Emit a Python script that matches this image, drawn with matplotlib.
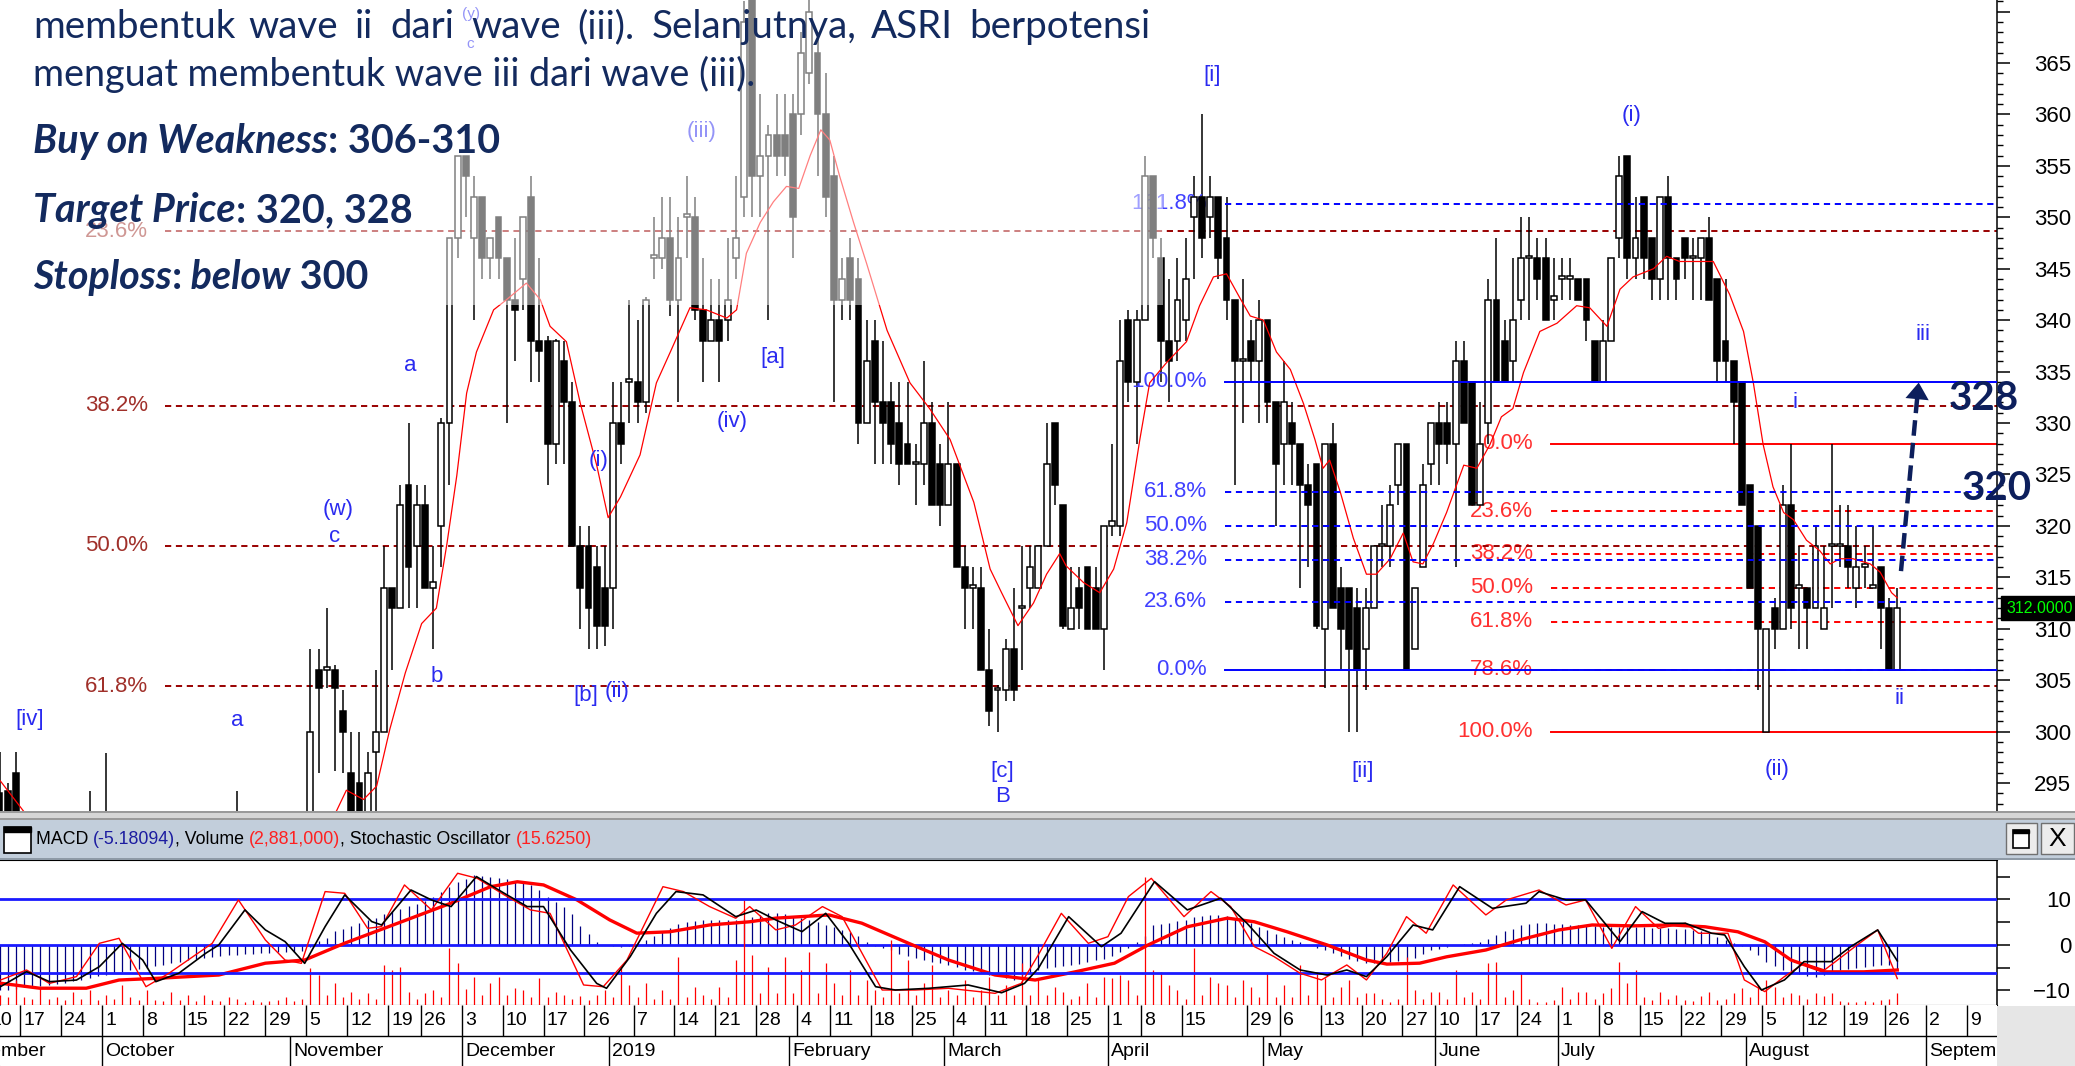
import numpy as np
import pandas as pd
import matplotlib
matplotlib.use("Agg")
import matplotlib.pyplot as plt
from matplotlib.patches import Rectangle
from matplotlib.ticker import MultipleLocator, FuncFormatter
from matplotlib.transforms import blended_transform_factory

NARROW = ["Liberation Sans Narrow", "Liberation Sans", "DejaVu Sans"]
BODY = ["Lato", "Open Sans", "DejaVu Sans"]
plt.rcParams["font.family"] = NARROW

# ---------------- trading calendar (IDX) ----------------
holidays = ["2018-09-11", "2018-11-20", "2018-12-24", "2018-12-25", "2018-12-31",
            "2019-01-01", "2019-02-05", "2019-03-07", "2019-04-03", "2019-04-17",
            "2019-04-19", "2019-05-01", "2019-05-30", "2019-06-03", "2019-06-04",
            "2019-06-05", "2019-06-06", "2019-06-07"]
days = pd.bdate_range("2018-09-03", "2019-09-13")
days = days[~days.isin(pd.to_datetime(holidays))]
first_day = "2018-09-10"
hidden_weeks = ["2019-01-02", "2019-04-22"]
month_names = {1: "2019", 2: "February", 3: "March", 4: "April", 5: "May", 6: "June",
               7: "July", 8: "August", 9: "September", 10: "October",
               11: "November", 12: "December"}

# ---------------- ASRI daily candles (from 2018-09-10) ----------------
opens = [296, 294, 294.2, 296, 287, 284, 282, 285, 281, 283,
         280, 282, 284, 286, 283, 288, 284, 287, 283, 281,
         279, 281, 283, 285, 284, 286, 287, 288, 289, 286,
         285, 287, 285, 284, 283, 284, 285, 286, 287, 290,
         306, 306, 306, 302, 296, 295, 291, 298, 300, 314,
         312, 324, 318, 322, 314, 320, 330, 348, 356, 348,
         352, 346, 350, 346, 342, 344, 352, 338, 338, 328,
         336, 332, 318, 318, 316, 314, 314, 330, 334, 334,
         332, 346, 346, 348, 342, 350, 350, 341, 338, 340,
         340, 346, 352, 372, 354, 356, 358, 358, 360, 360,
         364, 366, 360, 354, 342, 346, 344, 330, 338, 332,
         332, 330, 328, 326, 326, 330, 326, 322, 326, 316,
         314, 314, 306, 304, 304, 308, 312, 314, 314, 318,
         330, 322, 310, 314, 316, 314, 310, 320, 320, 340,
         334, 340, 354, 346, 338, 338, 340, 350, 352, 350,
         352, 348, 342, 336, 338, 336, 340, 332, 328, 330,
         328, 324, 326, 310, 328, 314, 314, 312, 308, 312,
         318, 318, 324, 328, 308, 316, 326, 330, 330, 328,
         336, 334, 322, 330, 342, 338, 336, 342, 346, 346,
         346, 342, 344, 344, 344, 344, 338, 334, 338, 348,
         356, 346, 352, 348, 344, 352, 346, 348, 346, 346,
         348, 344, 338, 336, 334, 324, 320, 300, 312, 310,
         322, 314, 314, 312, 310, 318, 318, 318, 314, 316,
         314, 316, 312, 306]
highs = [299, 298, 295, 298, 290, 288, 286, 287, 285, 286,
         284, 286, 294.2, 289, 297.9, 290, 289, 289, 286, 285,
         283, 285, 287, 288, 288, 289, 290, 291, 291, 289,
         294.2, 290, 288, 287, 286, 287, 288, 289, 291, 308,
         308, 312, 306.5, 304, 300, 300, 298, 306, 318, 314,
         324, 330, 324, 324, 318, 330.5, 348, 356, 356, 354,
         352, 348, 350, 346, 348, 350, 354, 346, 338.5, 338.2,
         338, 334, 320, 320, 318, 318, 334, 334, 342, 340,
         342.2, 350, 352, 352, 350, 354, 352, 346, 344, 344,
         348, 354, 371, 374, 362, 359, 362, 362, 362, 368,
         372, 368, 364, 356, 346, 348, 346, 340, 340, 338,
         334, 334, 334, 328, 336, 332, 328, 332, 326, 318,
         316, 316, 310, 304.5, 309, 314, 318, 318, 318, 330,
         330, 322, 316, 316, 316, 316, 320, 328, 340, 341,
         341, 356, 354, 348, 344, 346, 348, 354, 360, 354,
         352, 352, 342, 344, 340, 342, 340, 332, 336, 332,
         328, 326, 326, 328, 330, 316, 314, 314, 314, 318,
         322, 324, 328, 328, 314, 326, 330, 332, 332, 338,
         338, 334, 332, 344, 348, 340, 346, 350, 350, 348,
         348, 346, 346, 346, 344, 344, 338, 340, 346, 356,
         356, 352, 352, 348, 352, 354, 346, 348, 348, 348,
         350, 344, 344, 336, 334, 324, 320, 310, 313, 324,
         328, 318, 314, 320, 318, 328, 322, 322, 320, 318,
         320, 316, 313, 314]
lows = [293, 290, 284, 285, 282, 280, 279, 280, 278, 279,
        277, 279, 282, 282, 281, 283, 280, 282, 279, 277,
        276, 278, 280, 281, 281, 283, 284, 285, 285, 283,
        283, 284, 282, 281, 280, 281, 282, 283, 284, 288,
        296, 304.2, 296.2, 296, 288, 290, 290, 292, 300, 306,
        312, 312, 312, 314, 308, 316, 324, 346, 350, 340,
        344, 344, 344, 330, 336, 341, 334, 334, 324, 326,
        326, 318, 310, 308, 308, 308.3, 310, 326, 330, 330,
        331, 344, 345, 340.4, 332, 346, 340, 334, 338, 334,
        338, 344, 350, 350, 350, 340, 354, 354, 346, 358,
        363, 354, 350, 332, 340, 340, 328, 330, 326, 326,
        326, 324, 326, 322, 324, 322, 320, 322, 316, 310,
        310, 306, 300.5, 300, 303, 303, 306, 312, 314, 318,
        322, 310, 310, 310, 310, 310, 306, 319, 319, 332,
        328, 340, 346, 334, 332, 336, 338, 344, 346, 348,
        344, 340, 324, 330, 334, 330, 330, 320, 324, 324,
        314, 316, 310, 304.2, 312, 306, 300, 300, 304, 312,
        316, 316, 322, 306, 308, 316, 324, 324, 326, 316,
        330, 322, 322, 328, 334, 334, 334, 340, 340, 342,
        340, 340, 342, 342, 342, 338, 334, 334, 338, 346,
        344, 344, 344, 342, 342, 342, 342, 344, 342, 342,
        342, 334, 334, 328, 322, 314, 304, 300, 308, 310,
        310, 308, 308, 312, 310, 312, 316, 314, 312, 314,
        314, 308, 306, 306]
closes = [294, 291, 286, 287, 284, 282, 285, 281, 283, 280,
          282, 284, 286, 283, 288, 284, 287, 283, 281, 279,
          281, 283, 285, 284, 286, 287, 288, 289, 286, 285,
          287, 285, 284, 283, 284, 285, 286, 287, 289, 300,
          304.2, 306.2, 304.2, 300, 290, 292, 296, 300, 314, 312,
          322, 316, 322, 314, 314.5, 330, 348, 356, 354, 352,
          346, 348, 346, 342, 341, 350, 338, 337, 328, 338,
          332, 318, 314, 312, 310.3, 310.3, 330, 328, 334.2, 332,
          342, 346.3, 348, 342, 346, 350.3, 341, 338, 340, 338,
          342, 348, 369, 354, 356, 358, 356, 356, 350, 366,
          370, 360, 352, 342, 344, 342, 330, 336, 332, 330,
          328, 326, 326, 326.2, 330, 322, 322, 326, 316, 314,
          314.2, 306, 302, 304.2, 308, 304, 312.2, 316, 318, 326,
          324, 310.3, 312, 312, 310, 310, 320, 320.5, 336, 334,
          340, 354, 348, 338, 336, 342, 344, 352, 348, 352,
          346, 342, 336, 336.2, 336, 340, 332, 326, 332, 328,
          324, 322, 310.3, 328, 312, 310, 308, 306, 312, 318,
          318.2, 322, 328, 306, 314, 324, 330, 328, 328, 336,
          330, 322, 328, 342, 334, 334, 340, 346, 346.2, 344,
          340, 342.3, 344.1, 344.1, 342, 340, 334, 338, 346, 354,
          346, 348, 346, 344, 352, 346, 344, 346, 346.2, 348,
          342, 336, 336, 332, 322, 314, 310, 310, 310, 322,
          312, 314.2, 312, 318, 312, 318.2, 318.2, 316, 316, 316.2,
          314.2, 312, 306, 312]

# red moving average (trading-day index, price)
ma_i = [1.1, 3.9, 8, 15, 22, 30, 38, 42.2, 43.4, 45.5, 47.1, 48.7, 50.6, 52.6, 54.4,
        55.7, 56.9, 58.1, 59.3, 61.4, 63.0, 65.4, 67.1, 68.3, 70.3, 72.0, 74.0, 75.4,
        76.9, 79.3, 81.3, 83.0, 85.4, 87.4, 89.9, 91.1, 92.3, 94.0, 95.6, 97.2, 98.7,
        100.1, 101.4, 102.5, 103.7, 105.4, 107.0, 109.5, 112.3, 114.7, 117.2, 120.1,
        122.1, 123.5, 125.5, 127.4, 129.0, 130.6, 131.4, 133.5, 135.5, 137.2, 138.8,
        140.4, 141.6, 143.7, 146.1, 147.7, 149.4, 151.0, 152.6, 153.9, 155.5, 157.1,
        158.8, 160.4, 161.8, 162.8, 163.6, 164.9, 166.5, 168.1, 169.3, 171.0, 172.6,
        173.8, 175.0, 176.3, 177.9, 180.0, 181.6, 183.2, 184.6, 186.0, 187.3, 189.3,
        191.4, 193.8, 195.4, 197.5, 199.1, 200.7, 203.2, 204.8, 206.4, 208.9, 210.5,
        212.5, 214.2, 215.4, 216.6, 217.8, 219.1, 220.3, 221.9, 223.5, 224.8, 226.0,
        227.6, 229.7, 230.9, 232.3, 233.0]
ma_v = [295.2, 292.3, 288, 285, 283, 285, 287, 292.3, 294.3, 293.4, 294.7, 300.2, 305.7,
        310.5, 312.0, 318.3, 324.9, 332.9, 336.9, 341.0, 342.0, 343.6, 342.0, 339.4,
        337.9, 331.9, 325.9, 320.8, 322.8, 326.9, 333.9, 336.9, 341.2, 341.0, 340.2,
        341.0, 346.5, 349.5, 351.5, 353.0, 352.8, 356.0, 358.5, 357.5, 354.0, 349.5,
        345.5, 339.0, 333.9, 331.4, 328.4, 322.3, 315.8, 313.5, 310.3, 312.5, 315.3,
        317.3, 316.1, 314.5, 313.5, 315.8, 320.3, 328.4, 333.9, 335.9, 337.9, 341.4,
        344.2, 344.5, 342.2, 340.4, 340.0, 336.9, 335.2, 331.9, 328.4, 325.6, 326.4,
        323.3, 318.8, 315.3, 315.3, 316.8, 319.3, 316.5, 316.3, 318.3, 321.3, 325.9,
        325.6, 327.9, 330.6, 331.4, 334.9, 338.9, 339.7, 341.4, 341.2, 339.4, 343.0,
        344.2, 345.0, 346.2, 345.7, 345.7, 345.7, 342.5, 338.9, 333.9, 327.9, 323.8,
        321.3, 320.6, 318.6, 317.6, 316.3, 316.8, 316.8, 316.3, 315.5, 313.5, 313.0]

# ---------------- indicator panel ----------------
macd_hist = [-10, -10, -9.8, -9.6, -9.3, -9.2, -9.0, -8.8, -8.6, -8.4,
             -8.0, -7.6, -7.2, -6.8, -6.5, -6.2, -5.9, -5.6, -5.3, -5.0,
             -4.6, -4.3, -4.0, -3.7, -3.4, -3.1, -2.9, -2.7, -2.5, -2.3,
             -2.1, -2.0, -1.9, -1.8, -1.7, -1.6, -1.6, -1.5, -1.4, -0.5,
             0.8, 1.6, 3.0, 3.6, 4.2, 4.8, 5.4, 6.0, 6.8, 7.4,
             7.9, 8.5, 9.0, 9.6, 10.5, 11.6, 12.8, 13.8, 14.6, 15.3,
             15.2, 15.0, 14.8, 14.4, 14.0, 13.7, 13.2, 12.0, 10.6, 9.4,
             8.4, 6.8, 4.2, 2.4, 0.7, 0.1, -0.2, -0.4, -0.3, 0.5,
             1.2, 2.0, 2.9, 3.8, 4.6, 5.0, 5.3, 5.5, 5.6, 5.5,
             5.5, 5.6, 5.8, 6.2, 6.6, 7.0, 7.0, 6.8, 6.4, 6.0,
             5.6, 5.0, 4.4, 4.0, 3.2, 2.8, 2.0, 0.6, -0.2, -0.6,
             -1.2, -2.0, -2.5, -2.8, -3.2, -3.7, -4.0, -4.4, -4.9, -5.4,
             -5.8, -6.2, -6.5, -6.8, -7.2, -7.6, -7.0, -6.2, -5.6, -5.0,
             -4.8, -4.6, -4.4, -4.1, -3.8, -3.4, -3.0, -2.4, -1.6, -0.7,
             0.6, 2.0, 4.4, 4.6, 4.8, 5.2, 5.6, 6.2, 6.4, 6.6,
             6.6, 6.4, 6.0, 5.4, 4.8, 4.0, 3.2, 2.4, 1.8, 1.1,
             0.6, 0.0, -0.6, -1.1, -1.8, -2.4, -3.0, -3.6, -4.0, -4.0,
             -4.0, -3.8, -3.5, -3.3, -2.8, -2.0, -1.2, -0.8, -0.4, 0.0,
             0.3, 0.5, 0.7, 1.4, 2.2, 3.0, 3.6, 4.4, 4.6, 4.8,
             4.8, 4.7, 4.6, 4.5, 4.4, 4.3, 4.2, 4.0, 4.0, 4.0,
             4.0, 4.0, 3.9, 3.8, 3.7, 3.7, 3.6, 3.5, 3.3, 3.0,
             2.6, 1.8, 1.2, 0.4, -0.3, -1.1, -2.2, -3.8, -4.6, -5.4,
             -6.0, -6.4, -6.8, -7.0, -6.6, -6.2, -5.6, -5.3, -5.0, -4.8,
             -4.6, -4.5, -4.4, -5.2]
volume_m = [3.0, 2.5, 2.0, 6.2, 2.0, 1.5, 4.1, 1.5, 2.0, 1.2,
            3.3, 1.5, 3.7, 1.2, 2.5, 1.5, 4.9, 2.0, 1.2, 3.7,
            1.2, 1.0, 3.3, 1.2, 2.5, 1.0, 2.5, 1.2, 1.0, 2.0,
            1.5, 0.8, 1.2, 0.8, 1.0, 1.2, 2.0, 1.0, 1.5, 9.0,
            7.4, 2.5, 5.3, 2.0, 3.3, 1.5, 2.9, 1.5, 9.9, 8.6,
            9.4, 3.3, 1.5, 2.9, 3.7, 2.0, 14.0, 10.3, 4.0, 7.0,
            2.5, 5.3, 7.0, 2.5, 4.1, 3.7, 2.0, 6.6, 2.0, 3.3,
            2.5, 1.5, 2.1, 1.2, 2.5, 3.7, 2.0, 9.4, 4.9, 2.0,
            5.3, 1.5, 3.7, 1.5, 11.9, 2.0, 4.5, 2.5, 1.5, 4.5,
            2.0, 11.0, 25.9, 12.3, 3.0, 9.4, 3.0, 11.9, 3.0, 8.6,
            13.1, 3.0, 10.3, 5.3, 2.5, 8.6, 2.5, 6.2, 3.7, 2.0,
            16.1, 3.0, 11.0, 2.5, 5.3, 9.9, 2.0, 3.7, 2.5, 6.2,
            2.0, 3.7, 7.0, 2.5, 4.9, 2.5, 10.3, 2.5, 6.2, 2.5,
            4.5, 3.3, 1.5, 2.1, 5.3, 2.0, 7.0, 6.6, 7.4, 6.2,
            2.5, 31.6, 8.6, 8.2, 4.9, 3.7, 1.6, 14.0, 2.5, 7.0,
            5.3, 4.9, 2.0, 6.2, 4.5, 2.0, 7.8, 2.0, 4.9, 2.0,
            9.9, 2.5, 7.8, 6.6, 2.0, 4.5, 6.2, 2.0, 2.9, 2.9,
            1.5, 0.8, 1.5, 11.9, 3.7, 1.5, 3.3, 3.3, 1.5, 8.6,
            2.0, 3.3, 1.5, 10.3, 10.7, 2.0, 3.7, 7.8, 1.5, 0.8,
            0.8, 1.2, 4.5, 1.5, 3.3, 3.3, 1.5, 2.9, 4.1, 10.7,
            5.3, 8.6, 2.0, 1.2, 3.3, 1.5, 2.5, 1.2, 1.0, 2.1,
            3.3, 1.2, 1.6, 2.9, 4.1, 2.0, 4.9, 6.2, 4.5, 2.0,
            2.9, 2.5, 1.5, 2.9, 2.1, 2.9, 1.0, 0.8, 0.8, 1.0,
            0.8, 1.2, 1.5, 2.9]
signal_i = [1.1, 5.9, 11.6, 15.6, 20.5, 27.8, 33.5, 38.3, 43.2, 49.7, 56.2, 61.0, 64.3,
            67.5, 71.6, 75.6, 78.9, 82.9, 87.8, 92.7, 95.9, 102.4, 106.4, 112.1, 117.0,
            122.7, 127.6, 132.5, 137.3, 141.4, 146.2, 151.1, 154.4, 158.4, 163.3, 168.1,
            170.6, 174.6, 177.9, 182.7, 186.8, 191.6, 195.7, 200.6, 205.4, 209.5, 213.5,
            216.8, 220.0, 224.1, 228.9, 233.0]
signal_v = [-8.4, -9.5, -9.5, -7.7, -7.3, -6.6, -4.0, -3.3, 0.4, 4.8, 9.2, 12.8, 13.9,
            13.2, 9.9, 5.5, 2.6, 2.9, 4.4, 5.1, 5.9, 6.6, 4.8, 0.4, -3.3,
            -6.6, -7.7, -5.9, -4.0, 0.0, 4.0, 5.9, 5.1, 2.9, 0.0, -3.3,
            -4.2, -4.0, -2.6, -1.1, 1.1, 3.3, 4.4, 4.2, 4.4, 4.0, 2.9,
            0.7, -3.3, -5.9, -5.9, -5.5]
stoch_k_i = [1.1, 4.3, 7.1, 10.4, 13.2, 15.6, 18.9, 21.7, 27.0, 30.2, 33.5, 35.9, 37.9,
             40.8, 43.2, 46.0, 47.7, 50.5, 53.8, 57.0, 59.4, 62.7, 65.9, 68.3, 72.4,
             74.8, 77.7, 82.1, 84.6, 87.8, 91.0, 92.7, 95.9, 98.3, 101.6, 104.0, 108.9,
             112.9, 117.0, 122.7, 125.9, 128.0, 130.8, 134.1, 136.5, 139.0, 141.8, 145.8,
             149.1, 151.5, 154.4, 156.8, 160.0, 162.6, 165.7, 168.1, 170.6, 173.0, 175.4,
             178.7, 182.7, 185.2, 189.2, 192.5, 194.9, 198.1, 201.0, 203.8, 207.1, 208.7,
             212.3, 214.3, 216.8, 219.2, 221.6, 224.1, 228.1, 230.6, 233.0]
stoch_k = [14.4, 22.6, 11.7, 17.2, 44.3, 48.4, 9.0, 19.9, 44.3, 79.6, 47.0, 30.7, 28.0,
           86.4, 85.0, 56.5, 57.9, 91.8, 71.5, 101.3, 97.2, 83.7, 71.5, 68.7, 10.4,
           9.0, 30.7, 90.4, 86.4, 74.2, 64.7, 74.2, 55.2, 59.2, 74.2, 66.0, 6.3,
           6.3, 7.7, 3.6, 11.7, 35.0, 68.7, 44.3, 49.7, 82.3, 97.2, 66.0,
           86.4, 74.2, 41.6, 33.5, 19.9, 14.5, 26.7, 14.5, 36.2, 66.0, 52.5,
           91.8, 67.4, 79.6, 87.7, 75.5, 79.6, 40.2, 74.2, 56.5, 60.6, 52.5,
           52.5, 14.5, 5.0, 17.2, 28.0, 22.6, 43.0, 55.2, 15.6]
stoch_d_i = [1.1, 4.3, 7.1, 10.4, 13.2, 16.0, 18.5, 20.1, 22.9, 26.2, 27.8, 31.0, 33.5,
             35.9, 38.3, 40.8, 43.2, 46.5, 47.7, 51.3, 53.8, 56.2, 59.3, 62.7, 65.5,
             67.5, 70.8, 74.0, 75.2, 78.1, 81.3, 83.7, 87.0, 91.0, 93.5, 95.9, 99.1,
             102.0, 104.8, 108.1, 110.5, 114.6, 119.4, 123.5, 126.3, 128.0, 131.7, 135.7,
             138.1, 142.2, 146.2, 150.3, 153.5, 156.8, 160.0, 163.3, 165.7, 168.1, 170.6,
             173.8, 176.2, 179.5, 183.5, 187.6, 189.2, 192.5, 194.9, 199.1, 201.8, 204.6,
             207.1, 210.3, 211.9, 214.3, 216.4, 219.2, 221.6, 224.9, 227.3, 230.6, 233.0]
stoch_d = [9.0, 21.3, 13.1, 14.4, 25.3, 44.3, 30.7, 13.1, 19.9, 36.2, 43.0, 71.5, 55.2,
           45.7, 28.0, 57.9, 83.7, 62.0, 59.2, 87.7, 79.6, 74.2, 98.6, 85.0, 74.2,
           74.2, 38.9, 11.7, 7.7, 33.5, 68.7, 86.4, 83.7, 66.0, 71.4, 63.3, 53.8,
           68.7, 44.3, 9.0, 6.3, 7.7, 10.4, 4.1, 11.7, 24.0, 66.0, 41.6,
           52.5, 94.5, 71.5, 81.0, 60.6, 36.2, 22.6, 18.5, 22.6, 17.2, 33.5,
           59.2, 55.2, 90.4, 72.8, 76.9, 86.4, 79.6, 79.6, 45.7, 70.1, 60.6,
           60.6, 52.5, 51.1, 25.3, 6.3, 14.5, 29.4, 29.4, 41.6, 55.2, 30.0]

# ---------------- fibonacci levels ----------------
fib_dark = [348.66, 331.7, 318.05, 304.4]
fib_dark_labels = ["23.6%", "38.2%", "50.0%", "61.8%"]
fib_blue = [351.3, 334.0, 323.3, 320.0, 316.7, 312.6, 306.0]
fib_blue_labels = ["161.8%", "100.0%", "61.8%", "50.0%", "38.2%", "23.6%", "0.0%"]
fib_red = [328.0, 321.4, 317.3, 314.0, 310.7, 306.0, 300.0]
fib_red_labels = ["0.0%", "23.6%", "38.2%", "50.0%", "61.8%", "78.6%", "100.0%"]
last_price = 312.0
targets = [("328", 1984, 398), ("320", 1997, 488)]
# projected wave iii arrow (trading-day index, price)
arrow_from = (233.45, 315.6)
arrow_to = (235.65, 334.2)

# Elliott wave labels (text, x px, y px, size)
wave_labels = [("[iv]", 30, 719, 16), ("a", 237, 721, 16), ("(w)", 338, 510, 16),
               ("c", 335, 537, 16), ("a", 410, 365, 16), ("b", 437, 677, 16),
               ("[b]", 586, 696, 16), ("(ii)", 617, 691, 16), ("(i)", 599, 460, 16),
               ("(iii)", 702, 132, 16), ("(y)", 471, 14, 11), ("c", 470, 44, 11),
               ("[a]", 773, 357, 16), ("(iv)", 732, 422, 16), ("[c]", 1002, 771, 16),
               ("B", 1003, 797, 16), ("[i]", 1212, 75, 16), ("[ii]", 1363, 771, 16),
               ("(i)", 1632, 116, 16), ("i", 1795, 403, 16), ("(ii)", 1777, 770, 16),
               ("ii", 1900, 698, 16), ("iii", 1923, 335, 16)]

# ---------------- figure geometry ----------------
W, H = 2075, 1066
AX_R = 1997
PX0, DAY_PX = 20, 8.18

fig = plt.figure(figsize=(W / 100, H / 100), dpi=100)
fig.patch.set_facecolor("white")


def box(x0, y0, x1, y1):
    return [x0 / W, 1 - y1 / H, (x1 - x0) / W, (y1 - y0) / H]


start = days.get_loc(pd.Timestamp(first_day))
n = len(closes)
x = np.arange(n) + start
xlim = (start + 3.5 - PX0 / DAY_PX, start + 3.5 + (AX_R - PX0) / DAY_PX)

ax = fig.add_axes(box(0, 0, AX_R, 811))
axm = fig.add_axes(box(0, 860, AX_R, 1005))
axd = fig.add_axes(box(0, 1005, AX_R, 1066))
for a in (ax, axm, axd):
    a.set_xlim(*xlim)
    a.set_xticks([])
    for s in ("top", "left", "bottom"):
        a.spines[s].set_visible(False)
    a.spines["right"].set_linewidth(1.1)

# ---------------- price panel ----------------
ax.set_ylim(292.28, 371.12)
o, h, l, c = map(np.array, (opens, highs, lows, closes))
up = c >= o
ax.vlines(x, l, h, color="black", lw=1.1, zorder=3)
ax.bar(x, np.maximum(np.abs(c - o), 0.25), bottom=np.minimum(o, c), width=0.72,
       color=np.where(up, "white", "black"), edgecolor="black", linewidth=1.1, zorder=4)
ax.plot(np.array(ma_i) + start, ma_v, color="red", lw=0.9, zorder=5)

blend = blended_transform_factory(ax.transAxes, ax.transData)
dash = (0, (3.2, 2.4))
for lv, lab in zip(fib_dark, fib_dark_labels):
    ax.plot([165 / AX_R, 1], [lv, lv], transform=blend, color="#990000", lw=1.4, ls=dash, zorder=2)
    ax.text(148 / AX_R, lv, lab, transform=blend, ha="right", va="center", fontsize=16, color="#a0302a")
for lv, lab in zip(fib_blue, fib_blue_labels):
    ls = "-" if lab in ("0.0%", "100.0%") else dash
    ax.plot([1225 / AX_R, 1], [lv, lv], transform=blend, color="#0000ff", lw=1.4, ls=ls, zorder=6)
    ax.text(1207 / AX_R, lv, lab, transform=blend, ha="right", va="center", fontsize=16, color="#4040ff")
for lv, lab in zip(fib_red, fib_red_labels):
    ls = "-" if lab in ("0.0%", "100.0%") else dash
    ax.plot([1551 / AX_R, 1], [lv, lv], transform=blend, color="#ff0000", lw=1.4, ls=ls, zorder=2)
    ax.text(1533 / AX_R, lv, lab, transform=blend, ha="right", va="center", fontsize=16,
            color="#ff3030", zorder=1)

for txt, px, py, fs in wave_labels:
    ax.text(px / AX_R, 1 - py / 811, txt, transform=ax.transAxes, ha="center", va="center",
            fontsize=fs, color="#2a2af0", zorder=7)

# projected move arrow
navy = "#0d1f5c"
ax0, ay0 = arrow_from[0] + start, arrow_from[1]
ax1, ay1 = arrow_to[0] + start, arrow_to[1]
ax.plot([ax0, ax1 - 0.2], [ay0, ay1 - 1.6], color=navy, lw=3.2, ls=(0, (3.5, 1.6)),
        zorder=8, solid_capstyle="butt")
ax.annotate("", xy=(ax1, ay1), xytext=(ax1 - 0.22, ay1 - 1.8),
            arrowprops=dict(arrowstyle="-|>,head_width=0.42,head_length=0.6", color=navy,
                            lw=0, mutation_scale=20), zorder=8)
for txt, px, py in targets:
    ax.text(px / AX_R, 1 - py / 811, txt, transform=ax.transAxes, ha="center", va="center",
            fontsize=29, fontweight="bold", family=BODY, color=navy, clip_on=False, zorder=9)

ax.text(2006 / AX_R, last_price, "312.0000", transform=blend, ha="left", va="center",
        fontsize=11.5, color="#00ff00", clip_on=False, zorder=9,
        bbox=dict(boxstyle="square,pad=0.3", facecolor="black", edgecolor="black"))

ax.yaxis.tick_right()
ax.yaxis.set_major_locator(MultipleLocator(5))
ax.yaxis.set_minor_locator(MultipleLocator(1))
ax.yaxis.set_major_formatter(FuncFormatter(lambda v, _: "" if v > 366 else f"{v:.0f}"))
ax.tick_params(axis="y", which="major", direction="out", length=9.4, width=1.1,
               labelsize=16, pad=44)
ax.tick_params(axis="y", which="minor", direction="out", length=4.3, width=1.0)
for t in ax.yaxis.get_major_ticks():
    t.label2.set_horizontalalignment("right")

# ---------------- indicator panel ----------------
axm.set_ylim(-13.19, 18.68)
axm.spines["top"].set_visible(True)
axm.spines["bottom"].set_visible(True)
axm.vlines(x, 0, macd_hist, color="#000080", lw=0.9, zorder=2)
axm.axhline(0, color="#1a1aff", lw=2.0, zorder=3)
axm.plot(np.array(signal_i) + start, signal_v, color="red", lw=2.4, zorder=4)
axv = axm.twinx()
axv.set_ylim(0, 35.7)
axv.set_xlim(*xlim)
axv.vlines(x, 0, volume_m, color="red", lw=0.9)
axv.set_axis_off()
axs = axm.twinx()
axs.set_ylim(-5.89, 112.1)
axs.set_xlim(*xlim)
axs.axhline(80, color="#1a1aff", lw=2.0)
axs.axhline(20, color="#1a1aff", lw=2.0)
axs.plot(np.array(stoch_k_i) + start, stoch_k, color="red", lw=1.0)
axs.plot(np.array(stoch_d_i) + start, stoch_d, color="black", lw=1.2)
axs.set_axis_off()

axm.yaxis.tick_right()
axm.yaxis.set_major_locator(MultipleLocator(10))
axm.yaxis.set_minor_locator(MultipleLocator(5))
axm.tick_params(axis="y", which="both", direction="out", length=9.4, width=1.1,
                labelsize=16, pad=44)
for t in axm.yaxis.get_major_ticks():
    t.label2.set_horizontalalignment("right")

# ---------------- date rows ----------------
axd.set_ylim(0, 2)
axd.spines["right"].set_visible(False)
axd.axhline(1, color="black", lw=1.0)
pos = pd.Series(np.arange(len(days)), index=days)
week_first = pos.groupby(days.to_period("W")).first().values
month_first = pos.groupby(days.to_period("M")).first().values
for p in week_first:
    d = days[p]
    if d.strftime("%Y-%m-%d") in hidden_weeks:
        continue
    axd.vlines(p - 0.5, 1, 2, color="black", lw=1.0)
    axd.text(p - 0.5 + 0.4, 1.5, str(d.day), ha="left", va="center", fontsize=14, clip_on=True)
for p in month_first:
    d = days[p]
    axd.vlines(p - 0.5, 0, 1, color="black", lw=1.0)
    axd.text(p - 0.5 + 0.4, 0.48, month_names[d.month], ha="left", va="center",
             fontsize=14, clip_on=True)

# ---------------- window chrome ----------------
def frect(x0, y0, x1, y1, **kw):
    fig.add_artist(Rectangle((x0 / W, 1 - y1 / H), (x1 - x0) / W, (y1 - y0) / H,
                             transform=fig.transFigure, **kw))


frect(0, 811, W, 820, facecolor="#d6d6d6", edgecolor="none")
frect(0, 811, W, 812.5, facecolor="#9a9a9a", edgecolor="none")
frect(0, 818, W, 819.5, facecolor="#9a9a9a", edgecolor="none")
frect(0, 820, W, 859, facecolor="#c2cedb", edgecolor="none")
frect(0, 858, W, 860, facecolor="#8e9aa6", edgecolor="none")
frect(4, 827, 31, 853, facecolor="white", edgecolor="black", lw=1.2)
frect(4, 827, 31, 832, facecolor="black", edgecolor="black", lw=1.0)
frect(2006, 823, 2037, 854, facecolor="#ececec", edgecolor="#707070", lw=1.0)
frect(2013, 830, 2029, 848, facecolor="white", edgecolor="black", lw=1.2)
frect(2013, 830, 2029, 833, facecolor="black", edgecolor="black", lw=1.0)
frect(2041, 823, 2074, 854, facecolor="#ececec", edgecolor="#707070", lw=1.0)
fig.text(2057.5 / W, 1 - 838.5 / H, "X", ha="center", va="center", fontsize=19, color="black")
frect(AX_R, 1006, W, H, facecolor="#e6e6e6", edgecolor="none")

# text box overlay
frect(0, 0, 1163, 305, facecolor="white", edgecolor="none", alpha=0.5, zorder=2)

renderer = fig.canvas.get_renderer()


def text_width(s, **kw):
    t = fig.text(0, 0, "|" + s + "|", **kw)
    w1 = t.get_window_extent(renderer).width
    t.set_text("||")
    w0 = t.get_window_extent(renderer).width
    t.remove()
    return w1 - w0


def put_runs(runs, x0, base, size, family, target=None):
    if target is not None:
        total = sum(text_width(s, fontsize=size, family=family, **st) for s, st in runs)
        size = size * target / total
    xx = x0
    for s, st in runs:
        fig.text(xx / W, 1 - base / H, s, fontsize=size, family=family, ha="left",
                 va="baseline", zorder=3, **st)
        xx += text_width(s, fontsize=size, family=family, **st)
    return size


# header line of the indicator window
k = dict(color="black")
put_runs([("MACD ", k), ("(-5.18094)", dict(color="#1c1ca0")), (", Volume ", k),
          ("(2,881,000)", dict(color="#ff2020")), (", Stochastic Oscillator ", k),
          ("(15.6250)", dict(color="#ff2020"))], 36, 844, 15, NARROW, target=558)

ink = "#132a5e"
reg = dict(color=ink)
size = put_runs([("menguat membentuk wave iii dari wave (iii).", reg)], 33, 86, 24, BODY, target=724)
words = "membentuk wave ii dari wave (iii). Selanjutnya, ASRI berpotensi".split()
widths = [text_width(wd, fontsize=size, family=BODY) for wd in words]
gap = (1146 - 33 - sum(widths)) / (len(words) - 1)
xx = 33
for wd, ww in zip(words, widths):
    fig.text(xx / W, 1 - 38 / H, wd, fontsize=size * 1.02, family=BODY, color=ink, ha="left",
             va="baseline", zorder=3)
    xx += ww + gap

bi = dict(color=ink, fontweight="bold", fontstyle="italic")
bd = dict(color=ink, fontweight="bold")
bsize = put_runs([("Buy on Weakness", bi), (": 306-310", bd)], 33, 153, 26, BODY, target=467)
put_runs([("Target Price", bi), (": 320, 328", bd)], 33, 222, bsize, BODY)
put_runs([("Stoploss", bi), (":", bd), (" below", bi), (" 300", bd)], 33, 289, bsize, BODY)

fig.savefig("out.png", dpi=100, facecolor="white")
